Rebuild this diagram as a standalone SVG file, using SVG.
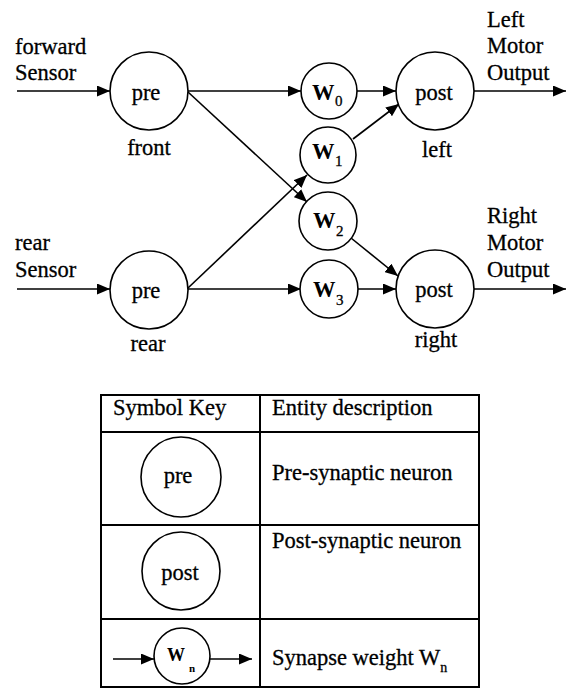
<svg xmlns="http://www.w3.org/2000/svg" width="566" height="688" viewBox="0 0 566 688">
<style>
text{font-family:'Liberation Serif','Times New Roman',serif;font-size:22.5px;fill:#000;stroke:#000;stroke-width:0.3}
.c{fill:#fff;stroke:#000;stroke-width:1.6}
.e{stroke:#000;stroke-width:1.6;fill:none}
.t{stroke:#000;stroke-width:2;fill:none}
.m{text-anchor:middle}
.w{font-weight:bold;stroke-width:0}
.s{font-size:15px}
</style>
<defs>
<marker id="ah" markerUnits="userSpaceOnUse" markerWidth="14" markerHeight="11" refX="13" refY="5.5" orient="auto">
<path d="M0,0 L13,5.5 L0,11 z" fill="#000"/>
</marker>
</defs>
<rect width="566" height="688" fill="#fff"/>

<g id="connectors" class="e">
<line x1="17" y1="91" x2="110" y2="91" marker-end="url(#ah)"/>
<line x1="17" y1="289" x2="110" y2="289" marker-end="url(#ah)"/>
<line x1="188" y1="91" x2="301" y2="91" marker-end="url(#ah)"/>
<line x1="188" y1="289" x2="301" y2="289" marker-end="url(#ah)"/>
<line x1="188" y1="92" x2="307" y2="202" marker-end="url(#ah)"/>
<line x1="188" y1="288" x2="307" y2="175" marker-end="url(#ah)"/>
<line x1="357" y1="91" x2="396" y2="91" marker-end="url(#ah)"/>
<line x1="357" y1="289" x2="396" y2="289" marker-end="url(#ah)"/>
<line x1="353" y1="139" x2="399" y2="104" marker-end="url(#ah)"/>
<line x1="351" y1="238" x2="398" y2="276" marker-end="url(#ah)"/>
<line x1="474" y1="91" x2="566" y2="91" marker-end="url(#ah)"/>
<line x1="474" y1="289" x2="566" y2="289" marker-end="url(#ah)"/>
</g>

<g id="labels">
<text x="15" y="54">forward</text>
<text x="15" y="80">Sensor</text>
<text x="15" y="250">rear</text>
<text x="15" y="277">Sensor</text>
<text x="487" y="27">Left</text>
<text x="487" y="53">Motor</text>
<text x="487" y="80">Output</text>
<text x="487" y="223">Right</text>
<text x="487" y="250">Motor</text>
<text x="487" y="277">Output</text>
</g>

<g id="pre-front">
<circle class="c" cx="149" cy="91" r="39"/>
<text class="m" x="146" y="100">pre</text>
<text class="m" x="149" y="155">front</text>
</g>
<g id="pre-rear">
<circle class="c" cx="149" cy="290" r="39"/>
<text class="m" x="146" y="298">pre</text>
<text class="m" x="148" y="351">rear</text>
</g>
<g id="w0">
<circle class="c" cx="329" cy="91" r="28"/>
<text class="w" x="312" y="100">W</text><text class="s" x="335" y="106">0</text>
</g>
<g id="w1">
<circle class="c" cx="328" cy="155" r="28"/>
<text class="w" x="312" y="159">W</text><text class="s" x="335" y="166">1</text>
</g>
<g id="w2">
<circle class="c" cx="328" cy="221" r="29"/>
<text class="w" x="313" y="228">W</text><text class="s" x="336" y="236">2</text>
</g>
<g id="w3">
<circle class="c" cx="329" cy="289" r="29"/>
<text class="w" x="313" y="297">W</text><text class="s" x="336" y="305">3</text>
</g>
<g id="post-left">
<circle class="c" cx="435" cy="91" r="39"/>
<text class="m" x="434" y="100">post</text>
<text class="m" x="437" y="157">left</text>
</g>
<g id="post-right">
<circle class="c" cx="435" cy="289" r="39"/>
<text class="m" x="434" y="297">post</text>
<text class="m" x="436" y="347">right</text>
</g>

<g id="key">
<rect class="t" x="101" y="395" width="378" height="292"/>
<line class="t" x1="260" y1="395" x2="260" y2="687"/>
<line class="t" x1="101" y1="432" x2="479" y2="432"/>
<line class="t" x1="101" y1="525" x2="479" y2="525"/>
<line class="t" x1="101" y1="619" x2="479" y2="619"/>
<text x="113" y="415">Symbol Key</text>
<text x="272" y="415">Entity description</text>
<circle class="c" cx="181" cy="477" r="40"/>
<text class="m" x="178" y="483">pre</text>
<text x="272" y="480">Pre-synaptic neuron</text>
<circle class="c" cx="181" cy="571" r="39"/>
<text class="m" x="180" y="580">post</text>
<text x="272" y="548">Post-synaptic neuron</text>
<line class="e" x1="113" y1="659" x2="154" y2="659" marker-end="url(#ah)"/>
<line class="e" x1="210" y1="659" x2="252" y2="659" marker-end="url(#ah)"/>
<circle class="c" cx="182" cy="656" r="28"/>
<text class="w" x="167" y="661" style="font-size:18px">W</text><text class="w" x="189" y="672" style="font-size:11px">n</text>
<text x="272" y="665">Synapse weight W<tspan style="font-size:14px" dy="7">n</tspan></text>
</g>
</svg>
